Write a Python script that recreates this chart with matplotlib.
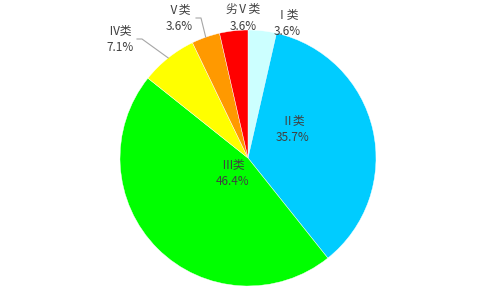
import matplotlib
matplotlib.use("Agg")
import matplotlib.pyplot as plt
import numpy as np

categories = ["Ⅰ类", "Ⅱ类", "Ⅲ类", "Ⅳ类", "Ⅴ类", "劣Ⅴ类"]
counts = [1, 10, 13, 2, 1, 1]
pct_labels = ["3.6%", "35.7%", "46.4%", "7.1%", "3.6%", "3.6%"]
colors = ["#CCFFFF", "#00CCFF", "#00FF00", "#FFFF00", "#FF9900", "#FF0000"]

W, H = 486, 290
fig = plt.figure(figsize=(W / 100, H / 100), dpi=100)
ax = fig.add_axes([0, 0, 1, 1])

cx, cy, R = 248, H - 158, 128
wedges, _ = ax.pie(counts, colors=colors, startangle=90, counterclock=False,
                   center=(cx, cy), radius=R, frame=True,
                   wedgeprops=dict(edgecolor="white", linewidth=0.3))
ax.set_xlim(0, W)
ax.set_ylim(0, H)
ax.set_aspect("equal")
ax.axis("off")

# label layout (pixel positions, top-left origin) and whether a leader line is drawn
label_pos = [(287, 23), (293, 129), (233, 173), (120, 39), (179, 18), (243, 18)]
leader = [False, False, False, True, True, False]

font = ["Noto Sans CJK SC", "DejaVu Sans"]
tc = "#404040"
for w, cat, pct, (lx, ly), ld in zip(wedges, categories, pct_labels, label_pos, leader):
    ax.text(lx, H - ly, cat + "\n" + pct, ha="center", va="center", fontsize=8.5,
            color=tc, family=font, linespacing=1.35)
    if ld:
        ang = np.deg2rad((w.theta1 + w.theta2) / 2)
        ex, ey = cx + R * np.cos(ang), cy + R * np.sin(ang)
        sx = lx + 17
        ys = H - ly
        ax.plot([sx, sx + 5, ex], [ys, ys, ey], color="#A6A6A6", lw=0.8)

fig.savefig("out.png", dpi=100, facecolor="white")
